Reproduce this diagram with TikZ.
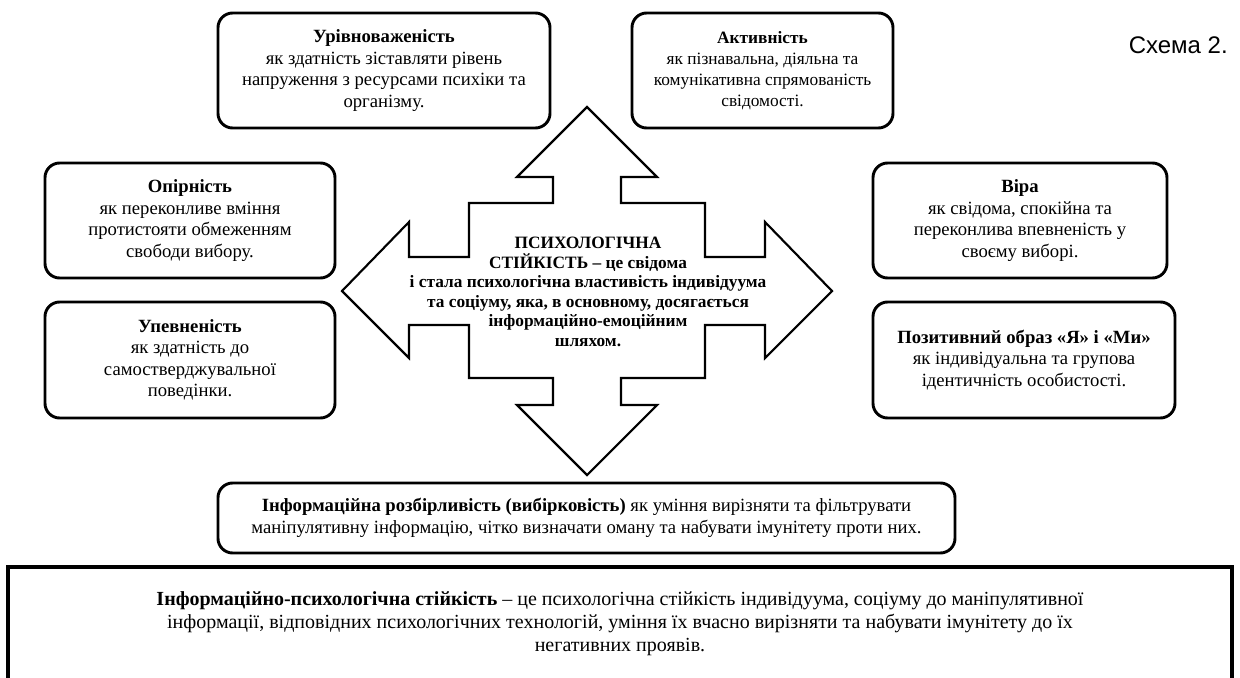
\documentclass[tikz,border=0pt]{standalone}
\usepackage{fontspec}
\setmainfont{Liberation Serif}
\newfontfamily\arialfont{Liberation Sans}
\begin{document}
\begin{tikzpicture}[x=0.75pt,y=-0.75pt,
  rbox/.style={draw=black,line width=2.2pt,rounded corners=11pt,align=center,
    inner sep=0pt,font=\fontsize{14}{16.1}\selectfont},
  bigbox/.style={draw=black,line width=2.3pt,align=center,inner sep=0pt,
    font=\fontsize{15}{17.3}\selectfont},
  arrowshape/.style={draw=black,line width=1.6pt,line join=miter},
  centertext/.style={align=center,inner sep=0pt,font=\fontsize{13}{14.6}\selectfont\bfseries},
  schema/.style={inner sep=0pt,anchor=east,font=\arialfont\fontsize{18}{21}\selectfont}]
\clip (0,0) rectangle (1240,678);
\fill[white] (0,0) rectangle (1240,678);

% central four-way arrow
\draw[arrowshape] (587,107) -- (657,177) -- (621,177) -- (621,203) -- (705,203)
  -- (705,257) -- (765,257) -- (765,222) -- (832,291) -- (765,358) -- (765,325)
  -- (705,325) -- (705,378) -- (621,378) -- (621,405) -- (657,405) -- (587,475)
  -- (517,405) -- (553,405) -- (553,378) -- (469,378) -- (469,325) -- (409,325)
  -- (409,358) -- (342,291) -- (409,222) -- (409,257) -- (469,257) -- (469,203)
  -- (553,203) -- (553,177) -- (517,177) -- cycle;

\node[centertext] (center) at (588,292) {ПСИХОЛОГІЧНА\\
СТІЙКІСТЬ – це свідома\\
і стала психологічна властивість індивідуума\\
та соціуму, яка, в основному, досягається\\
інформаційно-емоційним\\
шляхом.};

\node[rbox,minimum width=249pt,minimum height=86.25pt] (urivn) at (384,70.5)
  {\textbf{Урівноваженість}\\як здатність зіставляти рівень\\напруження з ресурсами психіки та\\організму.};
\node[rbox,font=\fontsize{13}{15.6}\selectfont,minimum width=195.75pt,minimum height=86.25pt] (aktyv) at (762.5,70.5)
  {\textbf{Активність}\\як пізнавальна, діяльна та\\комунікативна спрямованість\\свідомості.};
\node[schema] (schema) at (1228,45) {Схема 2.};

\node[rbox,minimum width=217.5pt,minimum height=86.25pt] (opir) at (190,220.5)
  {\textbf{Опірність}\\як переконливе вміння\\протистояти обмеженням\\свободи вибору.};
\node[rbox,minimum width=217.5pt,minimum height=87pt] (upevn) at (190,360)
  {\textbf{Упевненість}\\як здатність до\\самостверджувальної\\поведінки.};
\node[rbox,minimum width=220.5pt,minimum height=86.25pt] (vira) at (1020,220.5)
  {\textbf{Віра}\\як свідома, спокійна та\\переконлива впевненість у\\своєму виборі.};
\node[rbox,minimum width=226.5pt,minimum height=87pt] (pozyt) at (1024,360)
  {\textbf{Позитивний образ «Я» і «Ми»}\\як індивідуальна та групова\\ідентичність особистості.};

\node[rbox,minimum width=552.75pt,minimum height=52.5pt] (rozb) at (586.5,518)
  {\textbf{Інформаційна розбірливість (вибірковість)} як уміння вирізняти та фільтрувати\\маніпулятивну інформацію, чітко визначати оману та набувати імунітету проти них.};

\node[bigbox,minimum width=918pt,minimum height=85.5pt] (big) at (620,624)
  {\textbf{Інформаційно-психологічна стійкість} – це психологічна стійкість індивідуума, соціуму до маніпулятивної\\
  інформації, відповідних психологічних технологій, уміння їх вчасно вирізняти та набувати імунітету до їх\\
  негативних проявів.};
\end{tikzpicture}
\end{document}
